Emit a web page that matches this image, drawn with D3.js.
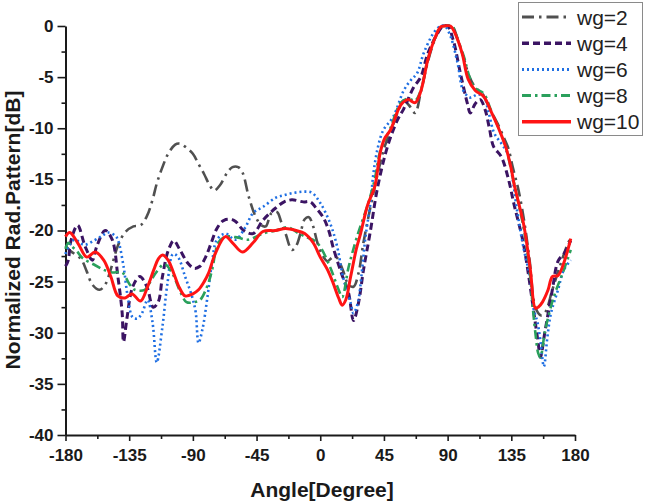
<!DOCTYPE html>
<html>
<head>
<meta charset="utf-8">
<script src="https://cdn.jsdelivr.net/npm/d3@7"></script>
<style>
  html, body { margin: 0; padding: 0; background: #fff; }
  svg { display: block; }
  text { font-family: "Liberation Sans", Arial, sans-serif; }
</style>
</head>
<body>
<svg id="chart" width="645" height="504"></svg>
<script>
// ---------- data ----------
const seriesNames = ["wg=2", "wg=4", "wg=6", "wg=8", "wg=10"];
const xTicks = [-180, -135, -90, -45, 0, 45, 90, 135, 180];
const yTicks = [0, -5, -10, -15, -20, -25, -30, -35, -40];

const angleW2 = [-180,-176.5,-169,-165,-161,-156,-152,-148,-143,-138,-132,-127,-122.5,-118.5,-115.5,-111.5,-107.5,-102.5,-99.5,-95.5,-90,-86,-82,-78,-75,-71,-66,-62,-58,-55,-50.5,-45.5,-41.5,-38.5,-34.5,-30.5,-27.5,-24.5,-20,-17,-14,-11,-8,-5,-2,1.5,5,9,12,16,20,23.5,27,30.5,35.5,40.5,45.5,50.5,56,59,63,67,71,76,81,85,89,93,97,101.5,105.5,109.5,114.5,119.5,125.5,130,133,136,140,144,148,152,156,159,164,170,175.5,177.5];
const dbW2 = [-21.5,-22,-22.8,-24,-25.3,-25.8,-25.3,-23.8,-21.5,-20.2,-19.6,-19.5,-18.6,-17,-15.4,-13.8,-12.5,-11.6,-11.5,-11.8,-12.5,-13.5,-14.5,-15.6,-16.1,-15.6,-14.4,-13.8,-13.8,-14.3,-16.7,-18.7,-19.5,-19.6,-18.3,-18.2,-19.2,-20.3,-21.9,-21.5,-20.3,-18.9,-18.7,-19.6,-21.2,-22.4,-23,-22.6,-22.7,-23.9,-25.3,-25.5,-24.2,-21.2,-17.7,-14.5,-11.8,-10,-8,-7.3,-7.8,-8.5,-6.5,-3.5,-1.3,-0.2,0,0,-1.2,-3.2,-5,-6,-6.6,-8,-9.6,-11,-12,-13.8,-16,-19,-23,-27.5,-28.3,-28,-25.8,-23.2,-21.1,-20.7];

const angleW4 = [-180,-178,-176.5,-171.5,-166,-161,-158,-152,-147,-143,-140,-139,-136.5,-132.5,-127.5,-122.5,-118,-114.5,-111.5,-107.5,-103.5,-99.5,-93.5,-89,-85,-81,-77,-73,-68,-61,-54,-47.5,-40.5,-31.5,-25.5,-20,-12,-7,-3,2,6,9,15,20,23.5,27,30.5,35.5,40.5,47.5,54.5,59,66,71,76,83,87,90,94,99,104,106,109.5,113,116.5,119.5,122.5,128,133,137,143,147,151,154,155.5,159,164,168,172.5,177];
const dbW4 = [-23.5,-22.9,-21.2,-19.5,-21.6,-22.9,-21.6,-20,-20.9,-24.5,-28,-30.9,-28.5,-25.5,-24.5,-25.5,-27.5,-27,-24.5,-22,-21,-21.8,-23.2,-23.7,-23.5,-22.6,-21.2,-19.8,-19,-19,-20,-20.3,-19,-17.8,-17.2,-17,-17.2,-17.2,-17.8,-18.7,-20,-21.6,-24.2,-26.1,-28.8,-27.1,-23.9,-20,-15.8,-11.8,-9.2,-8.1,-6,-5,-2.7,-0.7,0,0,-1.4,-4.6,-7.6,-8.5,-7.6,-7.2,-8.2,-10,-11.8,-12.8,-15,-17.5,-20.9,-24.2,-28.1,-31,-32.4,-29.7,-25.8,-23,-22.2,-21];

const angleW6 = [-180,-178,-173.5,-167,-160,-154,-150,-145,-143,-139,-136,-132.5,-129,-126,-122,-118.5,-115.5,-111.5,-108,-104,-100.5,-95.5,-90.5,-88,-86,-83,-80,-76.5,-73,-67,-60,-53,-47.5,-40.5,-31.5,-24.5,-18,-12,-6,0,7,12,16,21.5,23.5,26.5,29.5,32,35.5,37.5,40.5,44.5,51.5,59,64,68.5,73,80,85,88,92,97,101,106,111,115.5,119,123,128,132.5,136,139,143.5,148.5,150.5,153.5,155.5,158,160.5,163,168,172,177];
const dbW6 = [-22.3,-21.6,-20.9,-21.4,-21,-20.5,-20.2,-20.5,-20.9,-23.5,-26.5,-28.5,-28.6,-28.1,-26.8,-29,-32.9,-29.4,-25.2,-22.3,-22.6,-24.5,-26.5,-28,-31,-29.5,-26.8,-23.2,-20.9,-20.3,-20.9,-19.7,-18.3,-17.7,-16.8,-16.5,-16.3,-16.2,-16.3,-17.3,-19.3,-21.6,-24.5,-27.1,-28.1,-27.1,-23.9,-20.6,-17.3,-14.5,-12,-10.2,-8.9,-6.3,-5.3,-4.6,-2.7,-0.7,0,0,-1,-3.6,-6.3,-7,-6.7,-6.9,-8.5,-10.5,-11.5,-12.5,-15,-18,-21.6,-24.8,-27.5,-29,-30.7,-33.3,-30.4,-28.1,-25.8,-23.9,-22.9];

const angleW8 = [-180,-178,-176,-172,-168,-159,-152,-147,-140,-135,-131,-124,-120,-116.5,-110,-104.5,-99.5,-94.5,-89,-85,-80,-76.5,-72,-67,-58,-51,-40.5,-31.5,-22.5,-15,-9,-4,0,7,13,15.5,20,26,34,38.5,42.5,49.5,57,62,67,71,76,81,85,89,93,97,101.5,105.5,109.5,115.5,120.5,125.5,131,136,140,144,148,150.5,152,154,155.5,159,165,172,177];
const dbW8 = [-21.8,-21.2,-21.5,-22,-22.7,-23.4,-23.9,-24.1,-24.1,-25.2,-25.8,-25.8,-25,-24.2,-23.3,-24.2,-25.8,-27,-27,-26.8,-25.5,-23.9,-21.2,-20.6,-20.7,-20.9,-20.3,-20,-19.7,-20.3,-20.7,-21,-21.6,-23.6,-25.8,-26.5,-23.6,-20.6,-17.3,-15,-12.2,-10,-7.5,-7.1,-7.3,-6.3,-3.3,-1.2,-0.1,0,0,-1.3,-3,-5,-6.1,-6.6,-8.2,-9.8,-11.8,-14.8,-17.3,-20,-24,-28,-30,-32,-32.4,-29.7,-26.5,-23.9,-21.9];

const angleW10 = [-180,-177,-171,-165,-159,-153,-148,-143,-138,-133,-127,-122,-117.5,-114.5,-111.5,-107.5,-103.5,-99.5,-95.5,-90,-86,-82,-79,-74,-67,-62,-55,-47.5,-40.5,-31.5,-24.5,-17,-11,-5,0,5,9,13,15.5,18,21.5,25.5,28.5,33.5,38.5,42.5,45.5,49.5,57,62,67,71,76,81,85,88,92,94.5,97.5,100.5,104.5,109.5,115.5,120.5,126,131,135,137,140,144,148.5,152,154,157,161,164,168,172.5,177];
const dbW10 = [-20.6,-20.2,-21.3,-22.6,-22.1,-22.9,-24.5,-26.4,-26.6,-26.2,-26.9,-25.5,-23.8,-22.8,-22.4,-22.9,-24.2,-25.6,-26.4,-26.2,-25.8,-25,-24.2,-22.2,-20.6,-21.2,-22.1,-21.2,-20.1,-20,-19.8,-20,-20.3,-21.2,-22.6,-23.8,-25.1,-26.6,-27.3,-26.8,-24.5,-21.8,-20.3,-17.5,-15.7,-12.3,-11,-10.2,-7.7,-7.2,-7.5,-6.4,-3.3,-1.2,-0.1,0,0,-0.5,-1.5,-2.8,-5.2,-6.3,-6.9,-8.3,-10,-11.8,-14,-15.5,-17.2,-19.6,-23.9,-27.6,-27.5,-27,-25.8,-24.5,-24.4,-23,-20.8];

const seriesAngles = [angleW2, angleW4, angleW6, angleW8, angleW10];
const seriesDb = [dbW2, dbW4, dbW6, dbW8, dbW10];

// ---------- styles ----------
const colors = ["#505050", "#3b1463", "#1f6fe3", "#2aa05c", "#ff1414"];
const dashes = ["12,5,2.5,5", "7,4", "2,3", "9,4,2.5,4", null];
const widths = [2.6, 3, 2.6, 2.6, 3];

const svg = d3.select("#chart");
const x = d3.scaleLinear().domain([-180, 180]).range([65.5, 575]);
const y = d3.scaleLinear().domain([-40, 0]).range([435, 26]);
const plainFmt = d => String(d); // ASCII hyphen-minus like the reference

// axes
const xMinor = d3.range(-157.5, 180, 45);
const yMinor = d3.range(-37.5, 0, 5);

const gx = svg.append("g").attr("transform", `translate(0,${y(-40)})`);
gx.call(d3.axisBottom(x).tickValues(xTicks).tickSize(6).tickSizeOuter(0).tickPadding(8).tickFormat(plainFmt));
const gxm = svg.append("g").attr("transform", `translate(0,${y(-40)})`);
gxm.call(d3.axisBottom(x).tickValues(xMinor).tickSize(4).tickFormat(""));
gxm.select(".domain").remove();

const gy = svg.append("g").attr("transform", `translate(${x(-180)},0)`);
gy.call(d3.axisLeft(y).tickValues(yTicks).tickSize(8).tickSizeOuter(0).tickPadding(4).tickFormat(plainFmt));
const gym = svg.append("g").attr("transform", `translate(${x(-180)},0)`);
gym.call(d3.axisLeft(y).tickValues(yMinor).tickSize(4).tickFormat(""));
gym.select(".domain").remove();

svg.selectAll(".domain").attr("stroke", "#1a1a1a").attr("stroke-width", 2);
svg.selectAll(".tick line").attr("stroke", "#1a1a1a").attr("stroke-width", 1.6);
svg.selectAll(".tick text")
  .attr("font-family", "'Liberation Sans', Arial, sans-serif")
  .attr("font-size", 17).attr("font-weight", "bold").attr("fill", "#1a1a1a");

// axis titles
svg.append("text").attr("x", 322).attr("y", 497).attr("text-anchor", "middle")
  .attr("font-size", 21).attr("font-weight", "bold").attr("fill", "#1a1a1a")
  .text("Angle[Degree]");
svg.append("text").attr("transform", "translate(20,230) rotate(-90)").attr("text-anchor", "middle")
  .attr("font-size", 21).attr("font-weight", "bold").attr("fill", "#1a1a1a")
  .text("Normalized Rad.Pattern[dB]");

// curves
const line = d3.line().x(d => x(d[0])).y(d => y(d[1])).curve(d3.curveCatmullRom.alpha(0.5));
seriesNames.forEach((name, i) => {
  const pts = seriesAngles[i].map((a, k) => [a, seriesDb[i][k]]);
  svg.append("path").datum(pts)
    .attr("d", line)
    .attr("fill", "none")
    .attr("stroke", colors[i])
    .attr("stroke-width", widths[i])
    .attr("stroke-dasharray", dashes[i])
    .attr("stroke-linejoin", "round");
});

// legend
const lg = svg.append("g");
lg.append("rect").attr("x", 518.5).attr("y", 2.5).attr("width", 124).attr("height", 133)
  .attr("fill", "#fff").attr("stroke", "#8a8a8a").attr("stroke-width", 1);
seriesNames.forEach((name, i) => {
  const cy = 17 + i * 26.2;
  lg.append("line").attr("x1", 522).attr("x2", 571).attr("y1", cy).attr("y2", cy)
    .attr("stroke", colors[i]).attr("stroke-width", widths[i] + 0.4)
    .attr("stroke-dasharray", dashes[i]);
  lg.append("text").attr("x", 577).attr("y", cy + 7.5)
    .attr("font-size", 21).attr("fill", "#222").text(name);
});
</script>
</body>
</html>
